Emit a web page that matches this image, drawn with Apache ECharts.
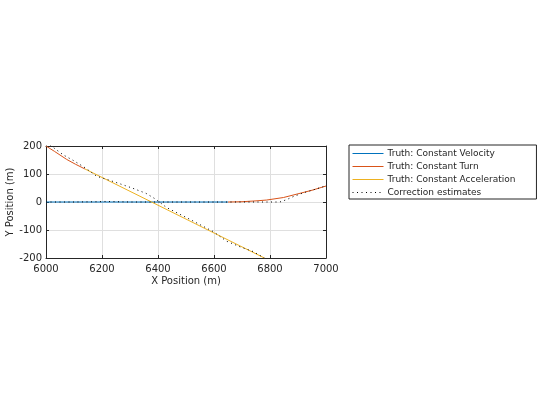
<!DOCTYPE html>
<html>
<head>
<meta charset="utf-8">
<script src="https://cdn.jsdelivr.net/npm/echarts@6/dist/echarts.min.js"></script>
<style>
html,body{margin:0;padding:0;background:#fff;}
#chart{width:560px;height:420px;}
</style>
</head>
<body>
<div id="chart"></div>
<script>
// Truth trajectories (X, Y in metres)
const truthCV = [[6000, 0], [6200, 0], [6400, 0], [6650, 0]];
const truthTurnA = [[6000, 200], [6030, 181], [6074, 152], [6105, 135], [6139, 118]];
const truthTurnB = [[6650, 0], [6700, 1], [6750, 4], [6788, 7], [6848, 16], [6907, 31], [6950, 42], [7000, 57]];
const truthCA = [[6139, 118], [6377, 0], [6780, -200]];
// Correction estimates
const estA = [[6000, 0], [6100, 0], [6190, 1], [6210, 2], [6300, 0], [6400, 0], [6500, 0], [6600, 0], [6650, 0],
  [6700, 0], [6760, 0], [6835, 0], [6850, 5], [6865, 11], [6880, 18], [6920, 33], [6960, 45], [7000, 58]];
const estB = [[6015, 203], [6020, 198], [6062, 168], [6100, 147], [6140, 122], [6181, 92], [6226, 78],
  [6270, 63], [6310, 49], [6357, 31], [6387, 13], [6410, -4], [6431, -20], [6514, -62], [6598, -106],
  [6645, -140], [6693, -160], [6740, -177], [6780, -200]];

const xMin = 6000, xMax = 7000, xStep = 200;
const yMin = -200, yMax = 200, yStep = 100;

const names = ['Truth: Constant Velocity', 'Truth: Constant Turn', 'Truth: Constant Acceleration', 'Correction estimates'];
const colors = ['#0072BD', '#D95319', '#EDB120', '#000000'];

const txt = '#262626';
const font = 'DejaVu Sans';
const dotPattern = [1, 3.5];

function lineSeries(name, data, color, dotted, z) {
  return {
    name: name, type: 'line', data: data, symbol: 'none', showSymbol: false,
    lineStyle: {color: color, width: 1, type: dotted ? dotPattern : 'solid'},
    itemStyle: {color: color},
    animation: false, z: z || 2, clip: true
  };
}

const chart = echarts.init(document.getElementById('chart'), null, {renderer: 'canvas'});
const axisCommon = {
  axisLine: {show: true, onZero: false, lineStyle: {color: txt, width: 1}},
  axisTick: {show: true, inside: true, length: 3, lineStyle: {color: txt}},
};
const plain = v => String(v);
chart.setOption({
  animation: false,
  backgroundColor: '#fff',
  grid: {left: 46, top: 146, width: 280, height: 112, show: false},
  legend: {
    orient: 'vertical', left: 349, top: 145,
    data: names.map((n, i) => ({
      name: n,
      itemStyle: {opacity: 0},
      lineStyle: {color: colors[i], width: 1, type: i === 3 ? dotPattern : 'solid'}
    })),
    itemWidth: 31, itemHeight: 10, itemGap: 4,
    padding: [4, 21, 2, 3],
    borderColor: txt, borderWidth: 1, backgroundColor: '#fff',
    textStyle: {fontFamily: font, fontSize: 9, color: txt, padding: [0, 0, 0, -1]},
    selectedMode: false
  },
  xAxis: [
    Object.assign({
      type: 'value', min: xMin, max: xMax, interval: xStep, position: 'bottom',
      name: 'X Position (m)', nameLocation: 'middle', nameGap: 18,
      nameTextStyle: {fontFamily: font, fontSize: 10, color: txt},
      axisLabel: {fontFamily: font, fontSize: 10, color: txt, margin: 6, formatter: plain},
      splitLine: {show: true, lineStyle: {color: '#dfdfdf', width: 1}}
    }, axisCommon),
    Object.assign({
      type: 'value', min: xMin, max: xMax, interval: xStep, position: 'top',
      axisLabel: {show: false}, splitLine: {show: false}
    }, axisCommon)
  ],
  yAxis: [
    Object.assign({
      type: 'value', min: yMin, max: yMax, interval: yStep, position: 'left',
      name: 'Y Position (m)', nameLocation: 'middle', nameGap: 31,
      nameTextStyle: {fontFamily: font, fontSize: 10, color: txt},
      axisLabel: {fontFamily: font, fontSize: 10, color: txt, margin: 4, formatter: plain},
      splitLine: {show: true, lineStyle: {color: '#dfdfdf', width: 1}}
    }, axisCommon),
    Object.assign({
      type: 'value', min: yMin, max: yMax, interval: yStep, position: 'right',
      axisLabel: {show: false}, splitLine: {show: false}
    }, axisCommon)
  ],
  series: [
    lineSeries(names[0], truthCV, colors[0], false, 2),
    lineSeries(names[1], truthTurnA, colors[1], false, 3),
    lineSeries(names[1], truthTurnB, colors[1], false, 3),
    lineSeries(names[2], truthCA, colors[2], false, 3),
    lineSeries(names[3], estA, colors[3], true, 5),
    lineSeries(names[3], estB, colors[3], true, 5)
  ]
});
</script>
</body>
</html>
